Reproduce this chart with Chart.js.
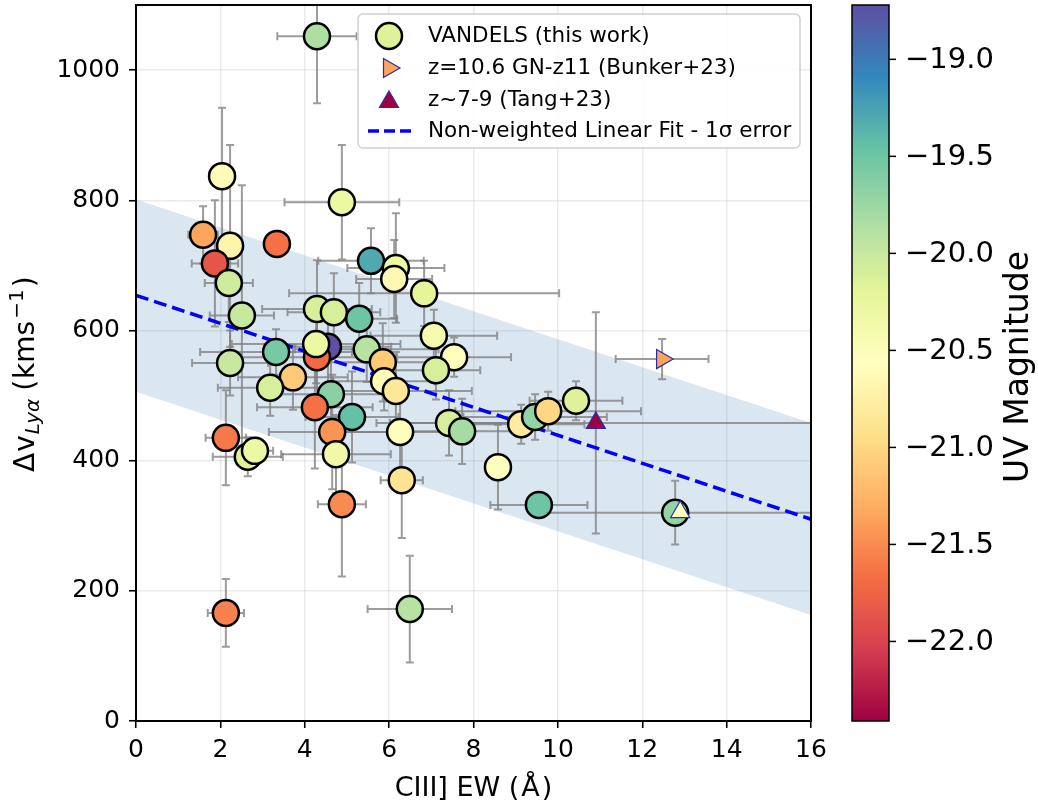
<!DOCTYPE html>
<html>
<head>
<meta charset="utf-8">
<script src="https://cdn.jsdelivr.net/npm/chart.js@4.4.0/dist/chart.umd.min.js"></script>
<style>
  html, body { margin: 0; padding: 0; background: #fff; }
  #wrap { width: 1038px; height: 804px; position: relative; }
</style>
</head>
<body>
<div id="wrap"><canvas id="chart" width="1038" height="804"></canvas></div>
<script>
// VANDELS sample: CIII] EW (A), Lya velocity offset (km/s), UV magnitude, errors
const ewVandels = [4.29, 2.04, 4.88, 1.59, 2.23, 3.34, 1.87, 2.20, 5.57, 6.16, 6.12, 6.83, 2.51, 4.29, 4.69, 5.29,
                   7.06, 7.54, 7.11, 4.55, 4.29, 4.27, 5.47, 5.85, 5.88, 6.16, 3.72, 4.62, 4.24, 5.12, 4.65, 4.74,
                   4.88, 6.26, 6.30, 7.42, 7.73, 8.58, 9.55, 9.13, 9.46, 9.77, 10.43, 12.78, 2.23, 3.32, 3.18, 2.13,
                   2.65, 2.82, 2.13, 6.49];
const dvVandels = [1052, 837, 797, 747, 730, 733, 703, 673, 707, 696, 679, 657, 623, 633, 628, 618,
                   592, 559, 539, 575, 559, 579, 571, 551, 522, 507, 528, 502, 482, 467, 444, 410,
                   333, 444, 370, 458, 445, 390, 332, 456, 467, 476, 492, 320, 550, 567, 512, 435,
                   406, 415, 166, 172];
const muvVandels = [-19.85, -20.6, -20.3, -21.35, -20.7, -21.65, -21.85, -20.05, -19.3, -20.3, -20.65, -20.2, -20.0, -20.1, -20.1, -19.5,
                    -20.4, -20.55, -20.1, -18.72, -21.7, -20.3, -19.9, -21.1, -20.6, -20.85, -21.1, -19.65, -21.65, -19.45, -21.45, -20.35,
                    -21.5, -20.55, -20.9, -20.1, -19.8, -20.55, -19.5, -20.8, -19.7, -21.0, -20.15, -19.7, -20.0, -19.55, -20.1, -21.6,
                    -20.15, -20.3, -21.55, -19.9];
const ewErrVandels = [0.94, 0.3, 1.36, 0.35, 0.3, 0.2, 0.55, 0.57, 1.25, 1.15, 0.9, 3.2, 0.76, 1.3, 1.1, 0.9,
                      1.5, 1.35, 1.05, 1.5, 1.8, 2.0, 1.7, 1.6, 1.2, 1.8, 1.3, 1.4, 1.37, 1.1, 1.5, 1.3,
                      0.57, 1.6, 0.5, 1.4, 1.3, 0.2, 1.15, 1.5, 1.7, 2.2, 1.1, 3.4, 0.9, 1.8, 1.24, 0.48,
                      0.83, 0.43, 0.43, 1.0];
const dvErrVandels = [103, 105, 88, 44, 155, 20, 97, 60, 50, 84, 60, 50, 200, 75, 60, 55,
                      40, 30, 45, 70, 60, 60, 50, 60, 45, 60, 50, 80, 94, 70, 88, 60,
                      111, 60, 89, 50, 50, 65, 20, 30, 35, 30, 30, 49, 50, 35, 43, 73,
                      30, 20, 52, 82];

// GN-z11 (Bunker+23)
const ewBunker = [12.47];
const dvBunker = [556];
const muvBunker = [-21.35];
const ewErrBunker = [1.1];
const dvErrBunker = [31];

// z~7-9 (Tang+23)
const ewTang = [10.9, 12.9];
const dvTang = [458, 321];
const muvTang = [-22.41, -20.55];
const ewErrTang = [5.2, 0];
const dvErrTang = [170, 0];

// non-weighted linear fit and 1 sigma band, read at x = 0 and x = 16
const fitX = [0, 16];
const fitY = [654, 310];
const bandHi = [801, 458];
const bandLo = [506, 163];

const xTicks = [0, 2, 4, 6, 8, 10, 12, 14, 16];
const yTicks = [0, 200, 400, 600, 800, 1000];
const cbTicks = [-19.0, -19.5, -20.0, -20.5, -21.0, -21.5, -22.0];
const cbMin = -22.41;
const cbMax = -18.72;

const FONT = "'DejaVu Sans', sans-serif";
const spectralStops = ['#9e0142', '#d53e4f', '#f46d43', '#fdae61', '#fee08b', '#ffffbf',
                       '#e6f598', '#abdda4', '#66c2a5', '#3288bd', '#5e4fa2'];

function hexRgb(h) {
    return [parseInt(h.slice(1, 3), 16), parseInt(h.slice(3, 5), 16), parseInt(h.slice(5, 7), 16)];
}

function spectral(t) {
    t = Math.min(1, Math.max(0, t));
    const n = spectralStops.length - 1;
    const i = Math.min(n - 1, Math.floor(t * n));
    const f = t * n - i;
    const a = hexRgb(spectralStops[i]), b = hexRgb(spectralStops[i + 1]);
    const c = a.map((v, k) => Math.round(v + (b[k] - v) * f));
    return 'rgb(' + c.join(',') + ')';
}

function uvColor(m) {
    return spectral((m - cbMin) / (cbMax - cbMin));
}

function toPoints(xs, ys) {
    return xs.map((x, i) => ({ x: x, y: ys[i] }));
}

const FIT_LABEL = 'Non-weighted Linear Fit - 1\u03c3 error';

// gray error bars, drawn just before the fit line so they sit under it
const errorBars = {
    id: 'errorBars',
    beforeDatasetDraw(chart, args) {
        if (chart.data.datasets[args.index].label !== FIT_LABEL) return;
        const ctx = chart.ctx, xs = chart.scales.x, ys = chart.scales.y, area = chart.chartArea;
        const groups = [
            [ewVandels, dvVandels, ewErrVandels, dvErrVandels],
            [ewBunker, dvBunker, ewErrBunker, dvErrBunker],
            [ewTang, dvTang, ewErrTang, dvErrTang]
        ];
        const cap = 4;
        ctx.save();
        ctx.beginPath();
        ctx.rect(area.left, area.top, area.right - area.left, area.bottom - area.top);
        ctx.clip();
        ctx.strokeStyle = 'rgba(128,128,128,0.78)';
        ctx.lineWidth = 2;
        groups.forEach(g => {
            g[0].forEach((ex, i) => {
                const px = xs.getPixelForValue(ex), py = ys.getPixelForValue(g[1][i]);
                const xe = g[2][i], ye = g[3][i];
                ctx.beginPath();
                if (xe > 0) {
                    const x1 = xs.getPixelForValue(ex - xe), x2 = xs.getPixelForValue(ex + xe);
                    ctx.moveTo(x1, py); ctx.lineTo(x2, py);
                    ctx.moveTo(x1, py - cap); ctx.lineTo(x1, py + cap);
                    ctx.moveTo(x2, py - cap); ctx.lineTo(x2, py + cap);
                }
                if (ye > 0) {
                    const y1 = ys.getPixelForValue(g[1][i] - ye), y2 = ys.getPixelForValue(g[1][i] + ye);
                    ctx.moveTo(px, y1); ctx.lineTo(px, y2);
                    ctx.moveTo(px - cap, y1); ctx.lineTo(px + cap, y1);
                    ctx.moveTo(px - cap, y2); ctx.lineTo(px + cap, y2);
                }
                ctx.stroke();
            });
        });
        ctx.restore();
    }
};

// frame, legend box, axis titles and the UV magnitude colour bar
const decorations = {
    id: 'decorations',
    afterDatasetsDraw(chart) {
        const ctx = chart.ctx, a = chart.chartArea;
        ctx.save();
        ctx.strokeStyle = '#000';
        ctx.lineWidth = 2;
        ctx.strokeRect(a.left, a.top, a.right - a.left, a.bottom - a.top);

        // legend
        const lx = 358, ly = 14, lw = 442, lh = 134;
        ctx.beginPath();
        ctx.roundRect(lx, ly, lw, lh, 5);
        ctx.fillStyle = 'rgba(255,255,255,0.85)';
        ctx.fill();
        ctx.strokeStyle = '#d0d0d0';
        ctx.lineWidth = 1.5;
        ctx.stroke();

        const rows = [36, 68, 100, 131];
        const mx = 389, tx = 428;
        ctx.fillStyle = uvColor(-20.15);
        ctx.strokeStyle = '#000';
        ctx.lineWidth = 2.5;
        Chart.helpers.drawPoint(ctx, { pointStyle: 'circle', radius: 13, rotation: 0, borderWidth: 2.5 }, mx, rows[0]);
        ctx.fillStyle = uvColor(-21.35);
        ctx.strokeStyle = '#2b2bb0';
        ctx.lineWidth = 1.2;
        Chart.helpers.drawPoint(ctx, { pointStyle: 'triangle', radius: 11, rotation: 90, borderWidth: 1.2 }, mx, rows[1]);
        ctx.fillStyle = uvColor(-22.41);
        Chart.helpers.drawPoint(ctx, { pointStyle: 'triangle', radius: 11, rotation: 0, borderWidth: 1.2 }, mx, rows[2] + 2);
        ctx.strokeStyle = '#0000ff';
        ctx.lineWidth = 3.5;
        ctx.setLineDash([11, 5]);
        ctx.beginPath();
        ctx.moveTo(368, rows[3]); ctx.lineTo(412, rows[3]);
        ctx.stroke();
        ctx.setLineDash([]);

        ctx.fillStyle = '#000';
        ctx.font = '21.5px ' + FONT;
        ctx.textBaseline = 'middle';
        ctx.textAlign = 'left';
        ['VANDELS (this work)', 'z=10.6 GN-z11 (Bunker+23)', 'z~7-9 (Tang+23)', FIT_LABEL]
            .forEach((t, i) => ctx.fillText(t, tx, rows[i]));
        ctx.restore();
    },
    afterDraw(chart) {
        const ctx = chart.ctx, a = chart.chartArea;
        ctx.save();
        ctx.fillStyle = '#000';
        ctx.textBaseline = 'alphabetic';

        // x title: CIII] EW (Å)
        ctx.font = '27px ' + FONT;
        const p1 = 'CIII] EW (', p2 = '\u00c5', p3 = ')';
        const w1 = ctx.measureText(p1).width, w2 = ctx.measureText(p2).width, w3 = ctx.measureText(p3).width;
        const gap = 2;
        let x = (a.left + a.right) / 2 - (w1 + w2 + w3 + 2 * gap) / 2;
        const by = 796;
        ctx.textAlign = 'left';
        ctx.fillText(p1, x, by); x += w1 + gap;
        ctx.fillText(p2, x, by); x += w2 + gap;
        ctx.fillText(p3, x, by);

        // y title: Δv_Lyα (kms^-1)
        ctx.save();
        ctx.translate(34, 472);
        ctx.rotate(-Math.PI / 2);
        const segs = [
            ['\u0394', '28px ' + FONT, 0, 1],
            ['v', '28px ' + FONT, 0, 1],
            ['Ly\u03b1', 'italic 20px ' + FONT, 5, 8],
            ['(', '28px ' + FONT, 0, 1],
            ['kms', '28px ' + FONT, 0, 2],
            ['\u22121', '20px ' + FONT, -11, 2],
            [')', '28px ' + FONT, 0, 0]
        ];
        let s = 0;
        segs.forEach(g => {
            ctx.font = g[1];
            ctx.fillText(g[0], s, g[2]);
            s += ctx.measureText(g[0]).width + g[3];
        });
        ctx.restore();

        // colour bar
        const cx = 852, cw = 37, top = a.top, bot = a.bottom;
        const grad = ctx.createLinearGradient(0, bot, 0, top);
        spectralStops.forEach((c, i) => grad.addColorStop(i / (spectralStops.length - 1), c));
        ctx.fillStyle = grad;
        ctx.fillRect(cx, top, cw, bot - top);
        ctx.strokeStyle = '#000';
        ctx.lineWidth = 1.5;
        ctx.strokeRect(cx, top, cw, bot - top);
        const toY = v => bot - (v - cbMin) / (cbMax - cbMin) * (bot - top);
        ctx.fillStyle = '#000';
        ctx.font = '29px ' + FONT;
        ctx.textAlign = 'left';
        ctx.textBaseline = 'middle';
        cbTicks.forEach(v => {
            const y = toY(v);
            ctx.beginPath();
            ctx.moveTo(cx + cw, y); ctx.lineTo(cx + cw + 7, y);
            ctx.stroke();
            ctx.fillText('\u2212' + Math.abs(v).toFixed(1), 905, y + 1);
        });
        ctx.save();
        ctx.translate(1028, (top + bot) / 2 + 4);
        ctx.rotate(-Math.PI / 2);
        ctx.font = '33px ' + FONT;
        ctx.textAlign = 'center';
        ctx.textBaseline = 'alphabetic';
        ctx.fillText('UV Magnitude', 0, 0);
        ctx.restore();
        ctx.restore();
    }
};

const axisFont = { family: FONT, size: 25 };

const chart = new Chart(document.getElementById('chart'), {
    type: 'scatter',
    data: {
        datasets: [
            {
                label: 'band-hi',
                data: toPoints(fitX, bandHi),
                showLine: true,
                borderWidth: 0,
                pointRadius: 0,
                fill: false,
                order: 4
            },
            {
                label: 'band-lo',
                data: toPoints(fitX, bandLo),
                showLine: true,
                borderWidth: 0,
                pointRadius: 0,
                fill: '-1',
                backgroundColor: 'rgba(70,130,180,0.2)',
                order: 3
            },
            {
                label: FIT_LABEL,
                data: toPoints(fitX, fitY),
                showLine: true,
                borderColor: '#0000ff',
                borderWidth: 3.5,
                borderDash: [13, 6],
                pointRadius: 0,
                fill: false,
                order: 2
            },
            {
                label: 'VANDELS (this work)',
                data: toPoints(ewVandels, dvVandels),
                pointStyle: 'circle',
                pointRadius: 13,
                pointBorderWidth: 2.5,
                pointBorderColor: '#000',
                pointBackgroundColor: muvVandels.map(uvColor),
                order: 1
            },
            {
                label: 'z=10.6 GN-z11 (Bunker+23)',
                data: toPoints(ewBunker, dvBunker),
                pointStyle: 'triangle',
                rotation: 90,
                pointRadius: 11,
                pointBorderWidth: 1.2,
                pointBorderColor: '#2b2bb0',
                pointBackgroundColor: muvBunker.map(uvColor),
                order: 0
            },
            {
                label: 'z~7-9 (Tang+23)',
                data: toPoints(ewTang, dvTang),
                pointStyle: 'triangle',
                pointRadius: 11,
                pointBorderWidth: 1.2,
                pointBorderColor: '#2b2bb0',
                pointBackgroundColor: muvTang.map(uvColor),
                order: 0
            }
        ]
    },
    options: {
        responsive: false,
        animation: false,
        devicePixelRatio: 1,
        layout: { autoPadding: false, padding: { left: 0, top: 5, right: 227, bottom: 0 } },
        plugins: {
            legend: { display: false },
            tooltip: { enabled: false }
        },
        scales: {
            x: {
                type: 'linear',
                min: 0,
                max: 16,
                afterBuildTicks: s => { s.ticks = xTicks.map(v => ({ value: v })); },
                afterFit: s => { s.height = 83; s.paddingLeft = 0; s.paddingRight = 0; },
                grid: { color: 'rgba(0,0,0,0.08)', lineWidth: 1.5, tickLength: 7, tickColor: '#000', tickWidth: 1.6 },
                border: { color: '#000', width: 2 },
                ticks: { font: axisFont, color: '#000', padding: 7, maxRotation: 0, callback: v => String(v) }
            },
            y: {
                type: 'linear',
                min: 0,
                max: 1100,
                afterBuildTicks: s => { s.ticks = yTicks.map(v => ({ value: v })); },
                afterFit: s => { s.width = 136; s.paddingTop = 0; s.paddingBottom = 0; },
                grid: { color: 'rgba(0,0,0,0.08)', lineWidth: 1.5, tickLength: 7, tickColor: '#000', tickWidth: 1.6 },
                border: { color: '#000', width: 2 },
                ticks: { font: axisFont, color: '#000', padding: 9, callback: v => String(v) }
            }
        }
    },
    plugins: [errorBars, decorations]
});
</script>
</body>
</html>
